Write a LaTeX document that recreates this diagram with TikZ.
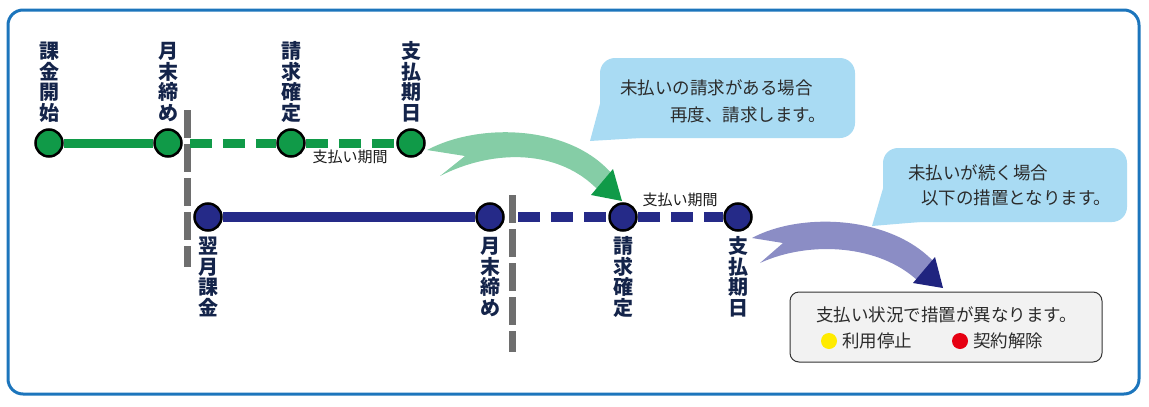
\documentclass[tikz,border=0pt]{standalone}
\usepackage{fontspec}
\newfontfamily\jp{Noto Sans CJK JP}
\definecolor{frameblue}{HTML}{1C75BC}
\definecolor{gfill}{HTML}{109A48}
\definecolor{bfill}{HTML}{252A88}
\definecolor{labtxt}{HTML}{14244A}
\definecolor{garrow}{HTML}{85CDA6}
\definecolor{parrow}{HTML}{8B8DC5}
\definecolor{ptip}{HTML}{20247F}
\definecolor{callfill}{HTML}{A9DBF3}
\definecolor{greyd}{HTML}{6E6E6E}
\definecolor{ydot}{HTML}{FFEB00}
\definecolor{rdot}{HTML}{E60012}
\definecolor{txt}{HTML}{2B2B2B}
\begin{document}
\begin{tikzpicture}[x=1pt,y=-1pt,
  dot/.style={circle,draw=black,line width=2.5pt,minimum size=27pt,inner sep=0pt},
  gdot/.style={dot,fill=gfill},
  bdot/.style={dot,fill=bfill},
  vlabel/.style={align=center,text=labtxt,font=\jp\bfseries\fontsize{20}{20.5}\selectfont,inner sep=0pt},
  gline/.style={draw=gfill,line width=9pt},
  bline/.style={draw=bfill,line width=10pt},
  gdash/.style={gline,dash pattern=on 22pt off 11pt},
  bdash/.style={bline,dash pattern=on 22pt off 11pt},
  vdash/.style={draw=greyd,line width=7pt,dash pattern=on 28pt off 6pt},
  period/.style={font=\jp\fontsize{15}{15}\selectfont,inner sep=0pt,text=black!90},
  calltext/.style={font=\jp\fontsize{17.5}{26}\selectfont,align=left,inner sep=0pt,anchor=west,text=txt},
  callbox/.style={fill=callfill,rounded corners=15pt,inner sep=0pt},
  resbox/.style={draw=black!80,line width=1pt,fill=black!5,rounded corners=9pt,inner sep=0pt},
  mark dot/.style={circle,minimum size=16pt,inner sep=0pt},
]
\useasboundingbox (0,0) rectangle (1149,407);
% frame
\draw[frameblue,line width=3pt,rounded corners=15pt] (8,10) rectangle (1139,394);

% callouts
\node[callbox,minimum width=255pt,minimum height=80pt] (c1) at (727.5,98) {};
\fill[callfill] (590,141) -- (601,100) -- (640,138) -- cycle;
\node[calltext] (c1a) at (620,88) {未払いの請求がある場合};
\node[calltext] (c1b) at (670,115) {再度、請求します。};

\node[callbox,minimum width=244pt,minimum height=74pt] (c2) at (1005,185) {};
\fill[callfill] (872,226) -- (884,185) -- (920,222) -- cycle;
\node[calltext] (c2a) at (908,173) {未払いが続く場合};
\node[calltext] (c2b) at (921,198) {以下の措置となります。};

% grey dashed separators
\coordinate (v1t) at (187,110);
\coordinate (v1b) at (187,267);
\coordinate (v2t) at (512,195);
\coordinate (v2b) at (512,352);
\draw[vdash] (v1t) -- (v1b);
\draw[vdash] (v2t) -- (v2b);

% green timeline
\node[gdot] (g1) at (49,143) {};
\node[gdot] (g2) at (168,143) {};
\node[gdot] (g3) at (291,143) {};
\node[gdot] (g4) at (411,143) {};
\coordinate (gs) at (190,143);
\draw[gline] (g1) -- (g2);
\draw[gdash] (gs) -- (g3);
\draw[gdash] (g3) -- (g4);
\node[vlabel] (lg1) at (49,82) {課\\金\\開\\始};
\node[vlabel] (lg2) at (168,82) {月\\末\\締\\め};
\node[vlabel] (lg3) at (291,82) {請\\求\\確\\定};
\node[vlabel] (lg4) at (411,82) {支\\払\\期\\日};
\node[period] (pg) at (350,157) {支払い期間};

% blue timeline
\node[bdot] (b1) at (208,217) {};
\node[bdot] (b2) at (490,217) {};
\node[bdot] (b3) at (623,217) {};
\node[bdot] (b4) at (738,217) {};
\coordinate (bs) at (518,217);
\draw[bline] (b1) -- (b2);
\draw[bdash] (bs) -- (b3);
\draw[bdash] (b3) -- (b4);
\node[vlabel] (lb1) at (208,277) {翌\\月\\課\\金};
\node[vlabel] (lb2) at (490,277) {月\\末\\締\\め};
\node[vlabel] (lb3) at (623,277) {請\\求\\確\\定};
\node[vlabel] (lb4) at (738,277) {支\\払\\期\\日};
\node[period] (pb) at (680,200) {支払い期間};

% green curved arrow
\fill[garrow] (427,150) .. controls (480,122) and (570,125) .. (612,174) -- (598,190) .. controls (560,150) and (495,148) .. (440,176) -- (465,156) -- cycle;
\fill[gfill] (591,195) -- (622,201) -- (613,169) -- cycle;

% purple curved arrow
\fill[parrow] (752,238) .. controls (800,212) and (890,215) .. (934,262) -- (918,281) .. controls (880,245) and (810,240) .. (760,263) -- (783,243) -- cycle;
\fill[ptip] (913,283) -- (943,288) -- (935,257) -- cycle;

% result box
\node[resbox,minimum width=312pt,minimum height=70pt] (res) at (946,327) {};
\node[calltext] (r1) at (816,315) {支払い状況で措置が異なります。};
\node[mark dot,fill=ydot] (yd) at (829,341) {};
\node[calltext] (r2) at (842,341) {利用停止};
\node[mark dot,fill=rdot] (rd) at (960,341) {};
\node[calltext] (r3) at (973,341) {契約解除};
\end{tikzpicture}
\end{document}
